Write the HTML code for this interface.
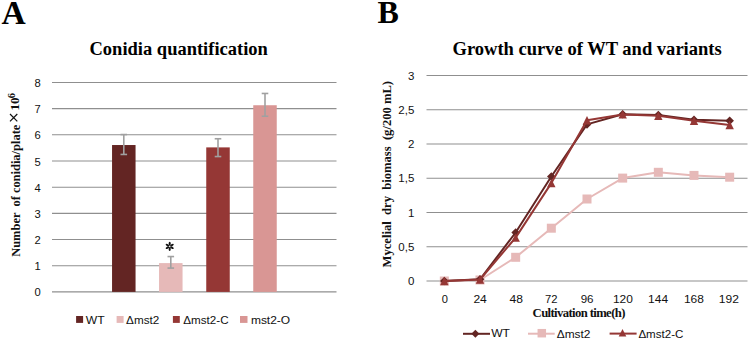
<!DOCTYPE html><html><head><meta charset="utf-8"><style>html,body{margin:0;padding:0;background:#fff;width:750px;height:340px;overflow:hidden}svg{display:block}</style></head><body><svg width="750" height="340" viewBox="0 0 750 340">
<rect width="750" height="340" fill="#fff"/>
<text x="1.5" y="23.8" font-family="Liberation Serif, serif" font-weight="bold" font-size="33.5">A</text>
<text x="377.6" y="23.2" font-family="Liberation Serif, serif" font-weight="bold" font-size="32">B</text>
<text x="178.7" y="54.6" text-anchor="middle" font-family="Liberation Serif, serif" font-weight="bold" font-size="18.5">Conidia quantification</text>
<text x="587.1" y="54.7" text-anchor="middle" font-family="Liberation Serif, serif" font-weight="bold" font-size="18.55">Growth curve of WT and variants</text>
<line x1="52" y1="291.9" x2="336.5" y2="291.9" stroke="#8f8f8f" stroke-width="1.1"/>
<text x="40.8" y="296.4" text-anchor="end" font-family="Liberation Sans, sans-serif" font-size="11.2" fill="#111">0</text>
<line x1="52" y1="265.72" x2="336.5" y2="265.72" stroke="#8f8f8f" stroke-width="1.1"/>
<text x="40.8" y="270.2" text-anchor="end" font-family="Liberation Sans, sans-serif" font-size="11.2" fill="#111">1</text>
<line x1="52" y1="239.54" x2="336.5" y2="239.54" stroke="#8f8f8f" stroke-width="1.1"/>
<text x="40.8" y="244.0" text-anchor="end" font-family="Liberation Sans, sans-serif" font-size="11.2" fill="#111">2</text>
<line x1="52" y1="213.36" x2="336.5" y2="213.36" stroke="#8f8f8f" stroke-width="1.1"/>
<text x="40.8" y="217.9" text-anchor="end" font-family="Liberation Sans, sans-serif" font-size="11.2" fill="#111">3</text>
<line x1="52" y1="187.18" x2="336.5" y2="187.18" stroke="#8f8f8f" stroke-width="1.1"/>
<text x="40.8" y="191.7" text-anchor="end" font-family="Liberation Sans, sans-serif" font-size="11.2" fill="#111">4</text>
<line x1="52" y1="161.0" x2="336.5" y2="161.0" stroke="#8f8f8f" stroke-width="1.1"/>
<text x="40.8" y="165.5" text-anchor="end" font-family="Liberation Sans, sans-serif" font-size="11.2" fill="#111">5</text>
<line x1="52" y1="134.82" x2="336.5" y2="134.82" stroke="#8f8f8f" stroke-width="1.1"/>
<text x="40.8" y="139.3" text-anchor="end" font-family="Liberation Sans, sans-serif" font-size="11.2" fill="#111">6</text>
<line x1="52" y1="108.64" x2="336.5" y2="108.64" stroke="#8f8f8f" stroke-width="1.1"/>
<text x="40.8" y="113.1" text-anchor="end" font-family="Liberation Sans, sans-serif" font-size="11.2" fill="#111">7</text>
<line x1="52" y1="82.46" x2="336.5" y2="82.46" stroke="#8f8f8f" stroke-width="1.1"/>
<text x="40.8" y="87.0" text-anchor="end" font-family="Liberation Sans, sans-serif" font-size="11.2" fill="#111">8</text>
<rect x="112.05" y="145.03" width="23.5" height="146.87" fill="#632523"/>
<rect x="159.05" y="263.10" width="23.5" height="28.80" fill="#E6B9B8"/>
<rect x="206.25" y="147.39" width="23.5" height="144.51" fill="#953735"/>
<rect x="253.25" y="105.24" width="23.5" height="186.66" fill="#D99694"/>
<line x1="123.80" y1="134.56" x2="123.80" y2="154.45" stroke="#a0a0a0" stroke-width="1.6"/>
<line x1="120.50" y1="134.56" x2="127.10" y2="134.56" stroke="#a0a0a0" stroke-width="1.6"/>
<line x1="120.50" y1="154.45" x2="127.10" y2="154.45" stroke="#a0a0a0" stroke-width="1.6"/>
<line x1="170.80" y1="256.56" x2="170.80" y2="268.08" stroke="#a0a0a0" stroke-width="1.6"/>
<line x1="167.50" y1="256.56" x2="174.10" y2="256.56" stroke="#a0a0a0" stroke-width="1.6"/>
<line x1="167.50" y1="268.08" x2="174.10" y2="268.08" stroke="#a0a0a0" stroke-width="1.6"/>
<line x1="218.00" y1="138.75" x2="218.00" y2="156.55" stroke="#a0a0a0" stroke-width="1.6"/>
<line x1="214.70" y1="138.75" x2="221.30" y2="138.75" stroke="#a0a0a0" stroke-width="1.6"/>
<line x1="214.70" y1="156.55" x2="221.30" y2="156.55" stroke="#a0a0a0" stroke-width="1.6"/>
<line x1="265.00" y1="93.46" x2="265.00" y2="116.23" stroke="#a0a0a0" stroke-width="1.6"/>
<line x1="261.70" y1="93.46" x2="268.30" y2="93.46" stroke="#a0a0a0" stroke-width="1.6"/>
<line x1="261.70" y1="116.23" x2="268.30" y2="116.23" stroke="#a0a0a0" stroke-width="1.6"/>
<ellipse cx="169.70" cy="248.95" rx="2.0" ry="1.05" transform="rotate(90 169.70 248.95)" fill="#111"/>
<ellipse cx="171.91" cy="247.68" rx="2.0" ry="1.05" transform="rotate(30 171.91 247.68)" fill="#111"/>
<ellipse cx="171.91" cy="245.12" rx="2.0" ry="1.05" transform="rotate(-30 171.91 245.12)" fill="#111"/>
<ellipse cx="169.70" cy="243.85" rx="2.0" ry="1.05" transform="rotate(270 169.70 243.85)" fill="#111"/>
<ellipse cx="167.49" cy="245.12" rx="2.0" ry="1.05" transform="rotate(210 167.49 245.12)" fill="#111"/>
<ellipse cx="167.49" cy="247.68" rx="2.0" ry="1.05" transform="rotate(150 167.49 247.68)" fill="#111"/>
<text transform="translate(20.3,256.8) rotate(-90)" font-family="Liberation Serif, serif" font-weight="bold" font-size="12.45" fill="#111" xml:space="preserve">Number  of conidia/plate</text>
<path d="M10,114 L17.3,121.4 M17.3,114 L10,121.4" stroke="#111" stroke-width="1.2" fill="none"/>
<text transform="translate(19.0,110.5) rotate(-90)" font-family="Liberation Serif, serif" font-weight="bold" font-size="13.2" fill="#111">10</text>
<text transform="translate(14.8,98.3) rotate(-90)" font-family="Liberation Serif, serif" font-weight="bold" font-size="10.5" fill="#111">6</text>
<rect x="76.1" y="316" width="7" height="6.9" fill="#632523"/>
<text x="85.7" y="323.8" font-family="Liberation Sans, sans-serif" font-size="11.2" textLength="18.9" lengthAdjust="spacingAndGlyphs" fill="#111">WT</text>
<rect x="116.6" y="316" width="7" height="6.9" fill="#E6B9B8"/>
<text x="126.10000000000001" y="323.8" font-family="Liberation Sans, sans-serif" font-size="11.2" textLength="33.2" lengthAdjust="spacingAndGlyphs" fill="#111">Δmst2</text>
<rect x="172.9" y="316" width="6.9" height="6.9" fill="#953735"/>
<text x="183.3" y="323.8" font-family="Liberation Sans, sans-serif" font-size="11.2" textLength="45.3" lengthAdjust="spacingAndGlyphs" fill="#111">Δmst2-C</text>
<rect x="240" y="316" width="7.5" height="6.9" fill="#D99694"/>
<text x="250.9" y="323.8" font-family="Liberation Sans, sans-serif" font-size="11.2" textLength="39.3" lengthAdjust="spacingAndGlyphs" fill="#111">mst2-O</text>
<line x1="426.5" y1="281.0" x2="747.5" y2="281.0" stroke="#8f8f8f" stroke-width="1.1"/>
<text x="414.3" y="285.2" text-anchor="end" font-family="Liberation Sans, sans-serif" font-size="11.5" fill="#111">0</text>
<line x1="426.5" y1="246.75" x2="747.5" y2="246.75" stroke="#8f8f8f" stroke-width="1.1"/>
<text x="414.3" y="250.9" text-anchor="end" font-family="Liberation Sans, sans-serif" font-size="11.5" fill="#111">0,5</text>
<line x1="426.5" y1="212.5" x2="747.5" y2="212.5" stroke="#8f8f8f" stroke-width="1.1"/>
<text x="414.3" y="216.7" text-anchor="end" font-family="Liberation Sans, sans-serif" font-size="11.5" fill="#111">1</text>
<line x1="426.5" y1="178.25" x2="747.5" y2="178.25" stroke="#8f8f8f" stroke-width="1.1"/>
<text x="414.3" y="182.4" text-anchor="end" font-family="Liberation Sans, sans-serif" font-size="11.5" fill="#111">1,5</text>
<line x1="426.5" y1="144.0" x2="747.5" y2="144.0" stroke="#8f8f8f" stroke-width="1.1"/>
<text x="414.3" y="148.2" text-anchor="end" font-family="Liberation Sans, sans-serif" font-size="11.5" fill="#111">2</text>
<line x1="426.5" y1="109.75" x2="747.5" y2="109.75" stroke="#8f8f8f" stroke-width="1.1"/>
<text x="414.3" y="114.0" text-anchor="end" font-family="Liberation Sans, sans-serif" font-size="11.5" fill="#111">2,5</text>
<line x1="426.5" y1="75.5" x2="747.5" y2="75.5" stroke="#8f8f8f" stroke-width="1.1"/>
<text x="414.3" y="79.7" text-anchor="end" font-family="Liberation Sans, sans-serif" font-size="11.5" fill="#111">3</text>
<text x="441.72" y="302.6" font-family="Liberation Sans, sans-serif" font-size="11.8" textLength="6.18" lengthAdjust="spacingAndGlyphs" fill="#111">0</text>
<text x="473.40" y="302.6" font-family="Liberation Sans, sans-serif" font-size="11.8" textLength="13.42" lengthAdjust="spacingAndGlyphs" fill="#111">24</text>
<text x="509.56" y="302.6" font-family="Liberation Sans, sans-serif" font-size="11.8" textLength="13.42" lengthAdjust="spacingAndGlyphs" fill="#111">48</text>
<text x="545.02" y="302.6" font-family="Liberation Sans, sans-serif" font-size="11.8" textLength="12.50" lengthAdjust="spacingAndGlyphs" fill="#111">72</text>
<text x="580.64" y="302.6" font-family="Liberation Sans, sans-serif" font-size="11.8" textLength="12.88" lengthAdjust="spacingAndGlyphs" fill="#111">96</text>
<text x="612.94" y="302.6" font-family="Liberation Sans, sans-serif" font-size="11.8" textLength="19.96" lengthAdjust="spacingAndGlyphs" fill="#111">120</text>
<text x="648.09" y="302.6" font-family="Liberation Sans, sans-serif" font-size="11.8" textLength="19.96" lengthAdjust="spacingAndGlyphs" fill="#111">144</text>
<text x="683.94" y="302.6" font-family="Liberation Sans, sans-serif" font-size="11.8" textLength="19.96" lengthAdjust="spacingAndGlyphs" fill="#111">168</text>
<text x="718.86" y="302.6" font-family="Liberation Sans, sans-serif" font-size="11.8" textLength="20.12" lengthAdjust="spacingAndGlyphs" fill="#111">192</text>
<text x="578.7" y="316.6" text-anchor="middle" font-family="Liberation Serif, serif" font-weight="bold" font-size="12.7" letter-spacing="-0.62" fill="#111">Cultivation time(h)</text>
<text transform="translate(391.3,267.4) rotate(-90)" font-family="Liberation Serif, serif" font-weight="bold" font-size="12.6" fill="#111" xml:space="preserve">Mycelial  dry  biomass  (g/200 mL)</text>
<polyline points="444.33,281.00 480.00,280.00 515.67,257.30 551.33,228.20 587.00,199.00 622.67,178.10 658.33,172.30 694.00,175.40 729.67,177.20" fill="none" stroke="#E6B9B8" stroke-width="2.0" stroke-linejoin="round"/>
<rect x="439.83" y="276.50" width="9" height="9" fill="#E6B9B8"/>
<rect x="475.50" y="275.50" width="9" height="9" fill="#E6B9B8"/>
<rect x="511.17" y="252.80" width="9" height="9" fill="#E6B9B8"/>
<rect x="546.83" y="223.70" width="9" height="9" fill="#E6B9B8"/>
<rect x="582.50" y="194.50" width="9" height="9" fill="#E6B9B8"/>
<rect x="618.17" y="173.60" width="9" height="9" fill="#E6B9B8"/>
<rect x="653.83" y="167.80" width="9" height="9" fill="#E6B9B8"/>
<rect x="689.50" y="170.90" width="9" height="9" fill="#E6B9B8"/>
<rect x="725.17" y="172.70" width="9" height="9" fill="#E6B9B8"/>
<polyline points="444.33,281.00 480.00,279.30 515.67,232.50 551.33,176.50 587.00,124.40 622.67,114.20 658.33,115.00 694.00,119.80 729.67,120.70" fill="none" stroke="#632523" stroke-width="2.0" stroke-linejoin="round"/>
<polygon points="444.33,276.70 448.63,281.00 444.33,285.30 440.03,281.00" fill="#632523"/>
<polygon points="480.00,275.00 484.30,279.30 480.00,283.60 475.70,279.30" fill="#632523"/>
<polygon points="515.67,228.20 519.97,232.50 515.67,236.80 511.37,232.50" fill="#632523"/>
<polygon points="551.33,172.20 555.63,176.50 551.33,180.80 547.03,176.50" fill="#632523"/>
<polygon points="587.00,120.10 591.30,124.40 587.00,128.70 582.70,124.40" fill="#632523"/>
<polygon points="622.67,109.90 626.97,114.20 622.67,118.50 618.37,114.20" fill="#632523"/>
<polygon points="658.33,110.70 662.63,115.00 658.33,119.30 654.03,115.00" fill="#632523"/>
<polygon points="694.00,115.50 698.30,119.80 694.00,124.10 689.70,119.80" fill="#632523"/>
<polygon points="729.67,116.40 733.97,120.70 729.67,125.00 725.37,120.70" fill="#632523"/>
<polyline points="444.33,281.00 480.00,279.50 515.67,237.60 551.33,183.10 587.00,120.30 622.67,114.40 658.33,115.70 694.00,120.70 729.67,125.00" fill="none" stroke="#953735" stroke-width="2.0" stroke-linejoin="round"/>
<polygon points="444.33,276.80 448.53,285.20 440.13,285.20" fill="#953735"/>
<polygon points="480.00,275.30 484.20,283.70 475.80,283.70" fill="#953735"/>
<polygon points="515.67,233.40 519.87,241.80 511.47,241.80" fill="#953735"/>
<polygon points="551.33,178.90 555.53,187.30 547.13,187.30" fill="#953735"/>
<polygon points="587.00,116.10 591.20,124.50 582.80,124.50" fill="#953735"/>
<polygon points="622.67,110.20 626.87,118.60 618.47,118.60" fill="#953735"/>
<polygon points="658.33,111.50 662.53,119.90 654.13,119.90" fill="#953735"/>
<polygon points="694.00,116.50 698.20,124.90 689.80,124.90" fill="#953735"/>
<polygon points="729.67,120.80 733.87,129.20 725.47,129.20" fill="#953735"/>
<line x1="463" y1="333.8" x2="490" y2="333.8" stroke="#632523" stroke-width="2"/>
<polygon points="475.40,329.80 479.40,333.80 475.40,337.80 471.40,333.80" fill="#632523"/>
<text x="491.2" y="337.3" font-family="Liberation Sans, sans-serif" font-size="11.2" textLength="18.8" lengthAdjust="spacingAndGlyphs" fill="#111">WT</text>
<line x1="528" y1="333.7" x2="554.7" y2="333.7" stroke="#E6B9B8" stroke-width="2"/>
<rect x="537.55" y="328.95" width="8.5" height="8.5" fill="#E6B9B8"/>
<text x="556.7" y="337.5" font-family="Liberation Sans, sans-serif" font-size="11.2" textLength="33.8" lengthAdjust="spacingAndGlyphs" fill="#111">Δmst2</text>
<line x1="609.6" y1="333.6" x2="636.6" y2="333.6" stroke="#953735" stroke-width="2"/>
<polygon points="622.50,329.00 626.30,336.60 618.70,336.60" fill="#953735"/>
<text x="638.4" y="337.6" font-family="Liberation Sans, sans-serif" font-size="11.2" textLength="45" lengthAdjust="spacingAndGlyphs" fill="#111">Δmst2-C</text>
</svg></body></html>
